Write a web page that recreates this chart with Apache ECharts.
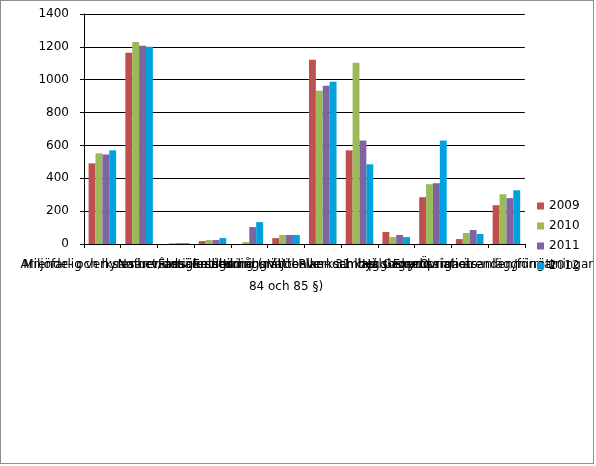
<!DOCTYPE html>
<html>
<head>
<meta charset="utf-8">
<script src="https://cdn.jsdelivr.net/npm/echarts@6/dist/echarts.min.js"></script>
<style>
  html, body { margin: 0; padding: 0; background: #fff; }
  #frame { position: absolute; left: 0; top: 0; width: 594px; height: 464px; box-sizing: border-box; border: 1px solid #8e8e8e; }
  #chart { position: absolute; left: 0; top: 0; width: 596px; height: 466px; }
</style>
</head>
<body>
<div id="chart"></div>
<div id="frame"></div>
<script>
const categories = [
  "Arrende- och hyresärenden",
  "Miljöfarlig verksamhet, ansökningsmål",
  "Naturvårdsärenden",
  "Fastighetsbildning",
  "Ledningsrätt",
  "Ersättning (miljöbalken 31 kap.\n84 och 85 §)",
  "Vattenverksamhet",
  "Plan- och bygglagen",
  "Hälsoskydd",
  "Expropriation",
  "Gemensamhetsanläggningar",
  "Övriga ärenden/förrättningar"
];
const seriesNames = ["2009", "2010", "2011", "2012"];
const values2009 = [491, 1164, 0, 18, 0, 36, 1121, 570, 73, 285, 30, 236];
const values2010 = [552, 1230, 5, 24, 12, 55, 933, 1103, 42, 364, 67, 303];
const values2011 = [545, 1206, 5, 24, 103, 55, 964, 630, 55, 370, 85, 279];
const values2012 = [570, 1200, 5, 36, 133, 55, 988, 485, 42, 630, 61, 327];
const yTicks = { min: 0, max: 1400, interval: 200 };

const colors = ["#C0504D", "#9BBB59", "#8064A2", "#00A2DE"];
const allValues = [values2009, values2010, values2011, values2012];

const chart = echarts.init(document.getElementById('chart'), null, { renderer: 'canvas' });
chart.setOption({
  animation: false,
  textStyle: { fontFamily: 'DejaVu Sans' },
  grid: { left: 84, right: 65, top: 14, bottom: 222 },
  legend: {
    orient: 'vertical',
    left: 532,
    top: 194,
    itemWidth: 7,
    itemHeight: 7,
    itemGap: 6,
    icon: 'rect',
    textStyle: { fontSize: 12, color: '#000', fontFamily: 'DejaVu Sans', lineHeight: 14 },
    data: seriesNames
  },
  xAxis: {
    type: 'category',
    data: categories,
    axisLine: { lineStyle: { color: '#000', width: 1 } },
    axisTick: { show: true, length: 4, lineStyle: { color: '#000' } },
    axisLabel: { interval: 0, fontSize: 12, color: '#000', margin: 10, lineHeight: 22, fontFamily: 'DejaVu Sans' },
    splitLine: { show: false }
  },
  yAxis: {
    type: 'value',
    min: yTicks.min,
    max: yTicks.max,
    interval: yTicks.interval,
    axisLine: { show: true, lineStyle: { color: '#000', width: 1 } },
    axisTick: { show: true, length: 4, lineStyle: { color: '#000' } },
    axisLabel: { fontSize: 12, color: '#000', margin: 15, fontFamily: 'DejaVu Sans', formatter: v => String(v) },
    splitLine: { show: true, lineStyle: { color: '#000', width: 1 } }
  },
  series: seriesNames.map((name, i) => ({
    name: name,
    type: 'bar',
    data: allValues[i],
    barGap: '0%',
    barCategoryGap: '25%',
    itemStyle: { color: colors[i] }
  }))
});
</script>
</body>
</html>
